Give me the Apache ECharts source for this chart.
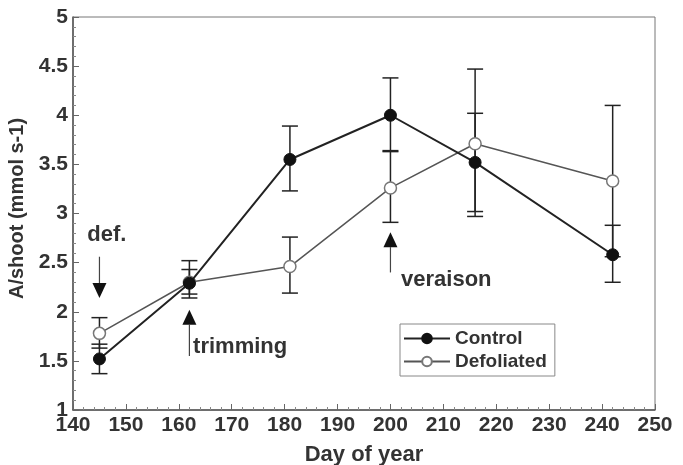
<!DOCTYPE html>
<html><head><meta charset="utf-8">
<script src="https://cdn.jsdelivr.net/npm/echarts@6/dist/echarts.min.js"></script>
<style>html,body{margin:0;padding:0;background:#fff}#c{width:683px;height:465px}</style>
</head><body><div id="c"></div>
<script>
var days = [145, 162, 181, 200, 216, 242];
var controlMean = [1.52, 2.29, 3.55, 4.00, 3.52, 2.58];
var controlLow  = [1.37, 2.14, 3.23, 3.63, 3.02, 2.30];
var controlHigh = [1.67, 2.43, 3.89, 4.38, 4.02, 2.88];
var defolMean = [1.78, 2.30, 2.46, 3.26, 3.71, 3.33];
var defolLow  = [1.63, 2.18, 2.19, 2.91, 2.97, 2.56];
var defolHigh = [1.94, 2.52, 2.76, 3.64, 4.47, 4.10];
var xTicks = [140, 150, 160, 170, 180, 190, 200, 210, 220, 230, 240, 250];
var yTicks = [1, 1.5, 2, 2.5, 3, 3.5, 4, 4.5, 5];
// annotations: [x, arrow tail y, arrow tip y, label, label x, label y]
var notes = [
  [145, 2.56, 2.14, 'def.', 142.7, 2.78],
  [162, 1.55, 2.02, 'trimming', 162.7, 1.64],
  [200, 2.40, 2.81, 'veraison', 202, 2.32]
];

var ink = '#333';
var chart = echarts.init(document.getElementById('c'));

function errSeries(name, low, high) {
  return {
    type: 'custom', name: name + ' err', silent: true, z: 3,
    data: days.map(function (d, i) { return [d, low[i], high[i]]; }),
    renderItem: function (params, api) {
      var lo = api.coord([api.value(0), api.value(1)]);
      var hi = api.coord([api.value(0), api.value(2)]);
      var w = 8;
      var st = { stroke: '#222', lineWidth: 1.5 };
      return { type: 'group', children: [
        { type: 'line', shape: { x1: lo[0], y1: lo[1], x2: hi[0], y2: hi[1] }, style: st },
        { type: 'line', shape: { x1: lo[0] - w, y1: lo[1], x2: lo[0] + w, y2: lo[1] }, style: st },
        { type: 'line', shape: { x1: hi[0] - w, y1: hi[1], x2: hi[0] + w, y2: hi[1] }, style: st }
      ]};
    }
  };
}

chart.setOption({
  animation: false,
  backgroundColor: '#fff',
  textStyle: { fontFamily: 'Liberation Sans, Arial, sans-serif' },
  grid: { left: 73, right: 28, top: 17, bottom: 55, containLabel: false, outerBoundsMode: 'none',
          show: true, borderColor: '#777', borderWidth: 1 },
  legend: {
    left: 400, top: 324, orient: 'vertical', itemGap: 4, itemWidth: 46, itemHeight: 12,
    padding: [5, 8, 5, 3], borderColor: '#888', borderWidth: 1,
    textStyle: { fontSize: 19, fontWeight: 'bold', color: ink },
    data: ['Control', 'Defoliated']
  },
  xAxis: {
    type: 'value', min: xTicks[0], max: xTicks[xTicks.length - 1], interval: 10,
    name: 'Day of year', nameLocation: 'middle', nameGap: 34,
    nameTextStyle: { fontSize: 22, fontWeight: 'bold', color: ink },
    axisLine: { lineStyle: { color: '#555', width: 1.5 } },
    axisTick: { inside: true, length: 6, lineStyle: { color: '#666' } },
    minorTick: { show: true, splitNumber: 5, length: 3, lineStyle: { color: '#888' } },
    splitLine: { show: false },
    axisLabel: { fontSize: 21, fontWeight: 'bold', color: ink, margin: 5 }
  },
  yAxis: {
    type: 'value', min: yTicks[0], max: yTicks[yTicks.length - 1], interval: 0.5,
    name: 'A/shoot (mmol s-1)', nameLocation: 'middle', nameGap: 42,
    nameTextStyle: { fontSize: 20, fontWeight: 'bold', color: ink, padding: [0, 0, 0, 10] },
    axisLine: { lineStyle: { color: '#555', width: 1.5 } },
    axisTick: { inside: true, length: 6, lineStyle: { color: '#666' } },
    minorTick: { show: true, splitNumber: 5, length: 3, lineStyle: { color: '#888' } },
    splitLine: { show: false },
    axisLabel: { fontSize: 21, fontWeight: 'bold', color: ink, margin: 5 }
  },
  series: [
    errSeries('Control', controlLow, controlHigh),
    errSeries('Defoliated', defolLow, defolHigh),
    {
      name: 'Defoliated', type: 'line', z: 4,
      data: days.map(function (d, i) { return [d, defolMean[i]]; }),
      symbol: 'circle', symbolSize: 12,
      lineStyle: { color: '#555', width: 1.5 },
      itemStyle: { color: '#fff', borderColor: '#777', borderWidth: 1.5 }
    },
    {
      name: 'Control', type: 'line', z: 5,
      data: days.map(function (d, i) { return [d, controlMean[i]]; }),
      symbol: 'circle', symbolSize: 12,
      lineStyle: { color: '#222', width: 2 },
      itemStyle: { color: '#111', borderColor: '#111', borderWidth: 1 }
    },
    {
      type: 'custom', name: 'notes', silent: true, z: 6,
      data: notes,
      renderItem: function (params, api) {
        var n = notes[params.dataIndex];
        var tail = api.coord([n[0], n[1]]);
        var tip = api.coord([n[0], n[2]]);
        var lab = api.coord([n[4], n[5]]);
        var dir = tip[1] > tail[1] ? 1 : -1;
        var hl = 15, hw = 7;
        var base = tip[1] - dir * hl;
        return { type: 'group', children: [
          { type: 'line', shape: { x1: tail[0], y1: tail[1], x2: tip[0], y2: base }, style: { stroke: '#444', lineWidth: 1.2 } },
          { type: 'polygon', shape: { points: [[tip[0], tip[1]], [tip[0] - hw, base], [tip[0] + hw, base]] }, style: { fill: '#111' } },
          { type: 'text', x: lab[0], y: lab[1], style: { text: n[3], fill: ink, font: 'bold 22px Liberation Sans, Arial, sans-serif', textAlign: 'left', textVerticalAlign: 'middle' } }
        ]};
      }
    }
  ]
});
</script></body></html>
